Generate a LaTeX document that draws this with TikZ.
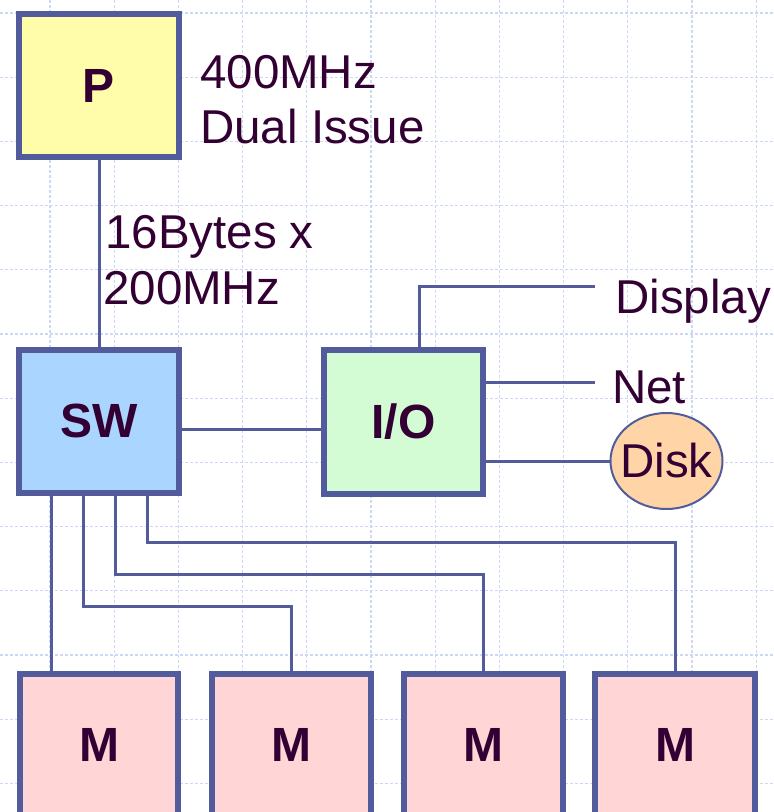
\documentclass[tikz,border=0pt]{standalone}
\usepackage{fontspec}
\setmainfont{Liberation Sans}
\usetikzlibrary{shapes.geometric}
\definecolor{edge}{HTML}{525C9C}
\definecolor{ink}{HTML}{330033}
\definecolor{gridc}{HTML}{CCD8F6}
\definecolor{pfill}{HTML}{FFFCAA}
\definecolor{swfill}{HTML}{AAD5FF}
\definecolor{iofill}{HTML}{D4FCD4}
\definecolor{mfill}{HTML}{FFD5D5}
\definecolor{dfill}{HTML}{FFD5A8}
\tikzset{
  x=1pt, y=-1pt,
  box/.style={draw=edge, line width=6pt, minimum width=160pt, minimum height=143pt, inner sep=0pt, text=ink, font=\fontsize{48}{48}\selectfont\bfseries},
  mtxt/.style={text=ink, font=\fontsize{48}{48}\selectfont\bfseries, inner sep=0pt},
  lbl/.style={text=ink, font=\fontsize{47.5}{55}\selectfont, inner sep=0pt, anchor=base west},
  wire/.style={draw=edge, line width=3pt},
  gridline/.style={draw=gridc, line width=1.2pt, dash pattern=on 2.5pt off 2.5pt}
}
\begin{document}
\begin{tikzpicture}
\useasboundingbox (0,0) rectangle (774,812);
\fill[white] (0,0) rectangle (774,812);
\foreach \k in {0,...,11} {
  \draw[gridline] ({50+64.2*\k},0) -- ({50+64.2*\k},812);
}
\foreach \k in {0,...,12} {
  \draw[gridline] (0,{13+64.2*\k}) -- (774,{13+64.2*\k});
}
% nodes
\node[box, fill=pfill] (P) at (99,85.5) {P};
\node[box, fill=swfill] (SW) at (99,421) {SW};
\node[box, fill=iofill, minimum width=159pt, minimum height=144pt] (IO) at (403.5,422) {I/O};
\node[box, fill=mfill, minimum width=158pt, minimum height=160pt, anchor=north] (M1) at (99,671) {};
\node[box, fill=mfill, minimum width=159pt, minimum height=160pt, anchor=north] (M2) at (291.5,671) {};
\node[box, fill=mfill, minimum width=159pt, minimum height=160pt, anchor=north] (M3) at (483.5,671) {};
\node[box, fill=mfill, minimum width=160pt, minimum height=160pt, anchor=north] (M4) at (675,671) {};
\node[mtxt] (m1t) at (99,745) {M};
\node[mtxt] (m2t) at (291.5,745) {M};
\node[mtxt] (m3t) at (483.5,745) {M};
\node[mtxt] (m4t) at (675,745) {M};
\node[ellipse, draw=edge, line width=2pt, fill=dfill, minimum width=112pt, minimum height=96pt, inner sep=0pt] (Disk) at (666.5,461) {};
\node[text=ink, font=\fontsize{47.5}{47.5}\selectfont, inner sep=0pt] (disktxt) at (Disk.center) {Disk};
% labels
\node[lbl] (f1) at (200,88) {400MHz};
\node[lbl] (f2) at (200,143) {Dual Issue};
\node[lbl] (b1) at (105,248) {16Bytes x};
\node[lbl] (b2) at (103,304) {200MHz};
\node[lbl] (disp) at (615,313) {Display};
\node[lbl] (net) at (612,403) {Net};
\coordinate (dispend) at (595,286);
\coordinate (netend) at (595,382);
% wires
\draw[wire] (P.south) -- (SW.north);
\draw[wire] (SW.east |- 0,429) -- (IO.west |- 0,429);
\draw[wire] ([xshift=15.5pt]IO.north) |- (dispend);
\draw[wire] (IO.east |- netend) -- (netend);
\draw[wire] (IO.east |- Disk) -- (Disk.west);
\draw[wire] (SW.south -| 51,0) -- (M1.north -| 51,0);
\draw[wire] (SW.south -| 83,0) |- (291.5,606) -- (M2.north);
\draw[wire] (SW.south -| 115,0) |- (483.5,574) -- (M3.north);
\draw[wire] (SW.south -| 147,0) |- (675,542) -- (M4.north);
\end{tikzpicture}
\end{document}
